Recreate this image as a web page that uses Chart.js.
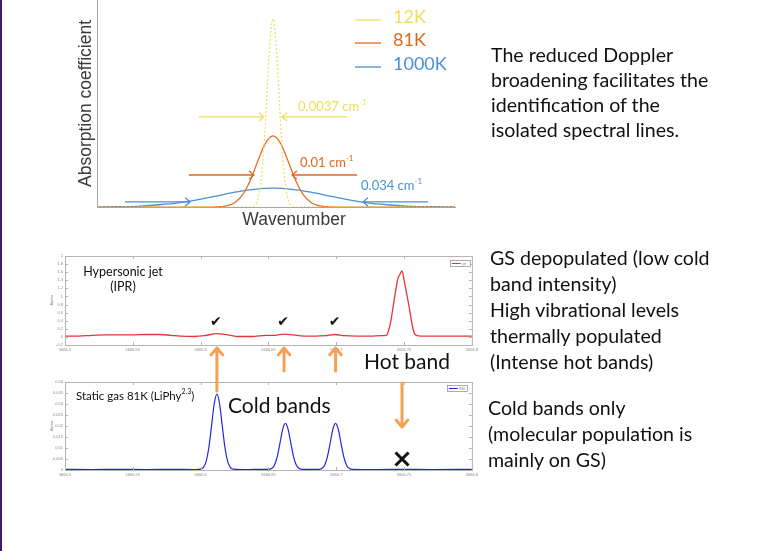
<!DOCTYPE html>
<html>
<head>
<meta charset="utf-8">
<script src="https://cdn.jsdelivr.net/npm/chart.js@4.4.1/dist/chart.umd.min.js"></script>
<style>
  body { margin: 0; width: 765px; height: 551px; background: #fff; position: relative; overflow: hidden; font-family: Lato, sans-serif; }
  #edge { position: absolute; left: 0; top: 0; width: 2px; height: 551px; background: #3b1a74; }
  canvas { position: absolute; }
  .note { position: absolute; font-size: 19.6px; color: #111; white-space: nowrap; }
</style>
</head>
<body>
<div id="edge"></div>
<canvas id="doppler" width="420" height="232" style="left:60px;top:0px"></canvas>
<canvas id="jet" width="440" height="105" style="left:40px;top:250px"></canvas>
<canvas id="cell" width="440" height="108" style="left:40px;top:376px"></canvas>
<canvas id="overlay" width="765" height="551" style="left:0;top:0;pointer-events:none"></canvas>

<div class="note" style="left:491px;top:42px;line-height:25px">The reduced Doppler<br>broadening facilitates the<br>identification of the<br>isolated spectral lines.</div>
<div class="note" style="left:490px;top:245px;line-height:26px">GS depopulated (low cold<br>band intensity)<br>High vibrational levels<br>thermally populated<br>(Intense hot bands)</div>
<div class="note" style="left:488px;top:395px;line-height:26px">Cold bands only<br>(molecular population is<br>mainly on GS)</div>

<script>
// Doppler profiles: offset from line centre (cm-1) vs normalised absorption
const dopplerLabels = ['12K', '81K', '1000K'];
const fwhmText = ['0.0037', '0.01', '0.034'];

const t12Wn  = [-0.0463, -0.006, -0.005, -0.004, -0.003, -0.002, -0.001, 0, 0.001, 0.002, 0.003, 0.004, 0.005, 0.006, 0.0479];
const t12Abs = [0, 0, 0.006, 0.039, 0.161, 0.444, 0.816, 1.0, 0.816, 0.444, 0.161, 0.039, 0.006, 0, 0];

const t81Wn  = [-0.0463, -0.016, -0.014, -0.012, -0.010, -0.008, -0.006, -0.004, -0.002, 0, 0.002, 0.004, 0.006, 0.008, 0.010, 0.012, 0.014, 0.016, 0.0479];
const t81Abs = [0, 0, 0.002, 0.007, 0.024, 0.064, 0.139, 0.243, 0.338, 0.378, 0.338, 0.243, 0.139, 0.064, 0.024, 0.007, 0.002, 0, 0];

const t1000Wn  = [-0.0463, -0.045, -0.04, -0.035, -0.03, -0.025, -0.02, -0.015, -0.01, -0.005, 0, 0.005, 0.01, 0.015, 0.02, 0.025, 0.03, 0.035, 0.04, 0.045, 0.0479];
const t1000Abs = [0.0005, 0.001, 0.002, 0.005, 0.012, 0.022, 0.038, 0.058, 0.079, 0.094, 0.100, 0.094, 0.079, 0.058, 0.038, 0.022, 0.012, 0.005, 0.002, 0.001, 0.0005];

// half-width arrows: height and tip positions (same units as above)
const fwhmArrowY = [0.479, 0.17, 0.027];
const fwhmTipL = [-0.0024, -0.005, -0.0218];
const fwhmTipR = [0.0024, 0.005, 0.0237];

// IPR hypersonic jet spectrum
const jetWn = [
  5666.500, 5666.510, 5666.520, 5666.530, 5666.540, 5666.550, 5666.560, 5666.570, 5666.578, 5666.585,
  5666.595, 5666.603, 5666.612, 5666.620, 5666.628, 5666.638, 5666.648, 5666.655, 5666.661, 5666.668,
  5666.676, 5666.685, 5666.692, 5666.699, 5666.706, 5666.715, 5666.725, 5666.733, 5666.737, 5666.740,
  5666.742, 5666.744, 5666.7456, 5666.747, 5666.7485, 5666.750, 5666.752, 5666.754, 5666.756, 5666.758,
  5666.762, 5666.770, 5666.785, 5666.800
];
const jetAlpha = [
  0.02, 0.02, 0.04, 0.05, 0.05, 0.05, 0.06, 0.06, 0.04, 0.02,
  0.01, 0.03, 0.08, 0.05, 0.01, 0.01, 0.04, 0.04, 0.07, 0.05,
  0.02, 0.02, 0.03, 0.06, 0.03, 0.02, 0.02, 0.03, 0.04, 0.35,
  0.76, 1.18, 1.46, 1.55, 1.63, 1.41, 1.05, 0.69, 0.30, 0.06,
  0.02, 0.02, 0.02, 0.02
];

// static cell at 81K (LiPhy)
const cellWn = [
  5666.500, 5666.520, 5666.540, 5666.560, 5666.580, 5666.596, 5666.600, 5666.602, 5666.604, 5666.606,
  5666.608, 5666.610, 5666.612, 5666.614, 5666.616, 5666.618, 5666.620, 5666.622, 5666.624, 5666.635,
  5666.645, 5666.650, 5666.6525, 5666.6545, 5666.6565, 5666.6585, 5666.6605, 5666.6625, 5666.6645, 5666.6665,
  5666.6685, 5666.6705, 5666.6725, 5666.675, 5666.687, 5666.6895, 5666.6915, 5666.6935, 5666.6955, 5666.6975,
  5666.6995, 5666.7015, 5666.7035, 5666.7055, 5666.7075, 5666.7095, 5666.712, 5666.730, 5666.750, 5666.770,
  5666.800
];
const cellAlpha = [
  0.0003, 0.0002, 0.0003, 0.0002, 0.0003, 0.0002, 0.0004, 0.0011, 0.0038, 0.0099,
  0.0198, 0.0300, 0.0345, 0.0300, 0.0198, 0.0099, 0.0038, 0.0011, 0.0004, 0.0002,
  0.0003, 0.0003, 0.0008, 0.0023, 0.0061, 0.0122, 0.0185, 0.0212, 0.0185, 0.0122,
  0.0061, 0.0023, 0.0008, 0.0003, 0.0003, 0.0008, 0.0023, 0.0061, 0.0122, 0.0185,
  0.0212, 0.0185, 0.0122, 0.0061, 0.0023, 0.0008, 0.0003, 0.0002, 0.0003, 0.0002,
  0.0003
];

const coldBands = [5666.612, 5666.6615, 5666.6995];
const hotBand = 5666.7485;

const dopplerColors = ['#eee05c', '#e2681c', '#4c8fd6'];
const arrowOrange = '#f7a054';

function pts(xs, ys) {
  return xs.map((v, i) => ({ x: v, y: ys[i] }));
}

// line with an open arrow head at (x2, y2)
function arrow(ctx, x1, y1, x2, y2, head, color, width) {
  const a = Math.atan2(y2 - y1, x2 - x1);
  ctx.save();
  ctx.strokeStyle = color;
  ctx.lineWidth = width;
  ctx.lineCap = 'round';
  ctx.lineJoin = 'round';
  ctx.beginPath();
  ctx.moveTo(x1, y1);
  ctx.lineTo(x2, y2);
  ctx.moveTo(x2 - head * Math.cos(a - 0.7), y2 - head * Math.sin(a - 0.7));
  ctx.lineTo(x2, y2);
  ctx.lineTo(x2 - head * Math.cos(a + 0.7), y2 - head * Math.sin(a + 0.7));
  ctx.stroke();
  ctx.restore();
}

// text with a superscript tail, returns the end x
function supText(ctx, base, sup, x, y, size, color, family) {
  ctx.save();
  ctx.fillStyle = color;
  ctx.textBaseline = 'middle';
  ctx.textAlign = 'left';
  ctx.font = size + 'px ' + family;
  ctx.fillText(base, x, y);
  let w = ctx.measureText(base).width;
  ctx.font = Math.round(size * 0.62) + 'px ' + family;
  ctx.fillText(sup, x + w, y - size * 0.33);
  w += ctx.measureText(sup).width;
  ctx.restore();
  return x + w;
}

const dopplerNotes = {
  id: 'dopplerNotes',
  afterDraw(chart) {
    const { ctx, chartArea: ca, scales: { x, y } } = chart;
    const tail = 0.017;
    const labelDx = [16, 8, -2];
    const labelDy = [-10, -12, -16];
    fwhmText.forEach((t, i) => {
      const c = dopplerColors[i];
      const ay = y.getPixelForValue(fwhmArrowY[i]);
      arrow(ctx, x.getPixelForValue(fwhmTipL[i] - tail), ay, x.getPixelForValue(fwhmTipL[i]), ay, 6, c, 1.3);
      arrow(ctx, x.getPixelForValue(fwhmTipR[i] + tail), ay, x.getPixelForValue(fwhmTipR[i]), ay, 6, c, 1.3);
      supText(ctx, t + ' cm', '-1', x.getPixelForValue(fwhmTipR[i]) + labelDx[i], ay + labelDy[i], 13, c, 'Lato');
    });

    // legend
    const rows = [20, 43, 67];
    chart.data.datasets.forEach((ds, i) => {
      const ly = ca.top + rows[i];
      ctx.save();
      ctx.strokeStyle = ds.borderColor;
      ctx.lineWidth = 1.3;
      ctx.beginPath();
      ctx.moveTo(ca.right - 100, ly);
      ctx.lineTo(ca.right - 74, ly);
      ctx.stroke();
      ctx.fillStyle = ds.borderColor;
      ctx.font = '18px Lato';
      ctx.textBaseline = 'middle';
      ctx.fillText(ds.label, ca.right - 62, ly - 3);
      ctx.restore();
    });

    ctx.save();
    ctx.fillStyle = '#3a3a3a';
    ctx.font = '17.5px "Liberation Sans"';
    ctx.textAlign = 'center';
    ctx.textBaseline = 'middle';
    ctx.fillText('Wavenumber', (ca.left + ca.right) / 2 + 18, ca.bottom + 13);
    ctx.restore();
  }
};

const dopplerChart = new Chart(document.getElementById('doppler'), {
  type: 'line',
  data: {
    datasets: [
      { label: dopplerLabels[0], data: pts(t12Wn, t12Abs), borderColor: dopplerColors[0], borderWidth: 1.2, borderDash: [2, 2] },
      { label: dopplerLabels[1], data: pts(t81Wn, t81Abs), borderColor: dopplerColors[1], borderWidth: 1.2 },
      { label: dopplerLabels[2], data: pts(t1000Wn, t1000Abs), borderColor: dopplerColors[2], borderWidth: 1.3 }
    ]
  },
  options: {
    responsive: false,
    animation: false,
    layout: { padding: { top: 0, right: 25, bottom: 0, left: 0 } },
    elements: { point: { radius: 0 }, line: { cubicInterpolationMode: 'monotone' } },
    plugins: { legend: { display: false }, tooltip: { enabled: false } },
    scales: {
      x: {
        type: 'linear', min: -0.0463, max: 0.0479,
        grid: { display: false, drawTicks: false },
        ticks: { display: false },
        border: { color: '#a6a6a6' },
        afterFit: s => { s.height = 25; }
      },
      y: {
        min: 0, max: 1.1,
        grid: { display: false, drawTicks: false },
        ticks: { display: false },
        border: { color: '#a6a6a6' },
        title: { display: true, text: 'Absorption coefficient', color: '#3a3a3a', font: { family: 'Liberation Sans', size: 17.5 }, padding: { top: 16, bottom: 0 } },
        afterFit: s => { s.width = 37; }
      }
    }
  },
  plugins: [dopplerNotes]
});

// box with inward ticks, the way the spectra were plotted
function drawFrame(chart) {
  const { ctx, chartArea: ca, scales: { x, y } } = chart;
  ctx.save();
  ctx.strokeStyle = '#b4b4b4';
  ctx.lineWidth = 1;
  ctx.strokeRect(ca.left + 0.5, ca.top + 0.5, ca.width, ca.height);
  ctx.beginPath();
  x.ticks.forEach(t => {
    const px = Math.round(x.getPixelForValue(t.value)) + 0.5;
    ctx.moveTo(px, ca.bottom); ctx.lineTo(px, ca.bottom - 3);
    ctx.moveTo(px, ca.top); ctx.lineTo(px, ca.top + 3);
  });
  y.ticks.forEach(t => {
    const py = Math.round(y.getPixelForValue(t.value)) + 0.5;
    ctx.moveTo(ca.left, py); ctx.lineTo(ca.left + 3, py);
    ctx.moveTo(ca.right, py); ctx.lineTo(ca.right - 3, py);
  });
  ctx.stroke();
  ctx.restore();
}

function drawMiniLegend(chart, dx, dy, text) {
  const { ctx, chartArea: ca } = chart;
  const ds = chart.data.datasets[0];
  const bx = ca.right + dx, by = ca.top + dy;
  ctx.save();
  ctx.fillStyle = '#fff';
  ctx.strokeStyle = '#9a9a9a';
  ctx.lineWidth = 0.8;
  ctx.fillRect(bx, by, 20, 6);
  ctx.strokeRect(bx + 0.5, by + 0.5, 20, 6);
  ctx.strokeStyle = ds.borderColor;
  ctx.lineWidth = 1;
  ctx.beginPath();
  ctx.moveTo(bx + 2, by + 3.5);
  ctx.lineTo(bx + 11, by + 3.5);
  ctx.stroke();
  ctx.fillStyle = '#777';
  ctx.font = '3.5px "Liberation Sans"';
  ctx.textBaseline = 'middle';
  ctx.fillText(text, bx + 12.5, by + 3.6);
  ctx.restore();
}

const jetNotes = {
  id: 'jetNotes',
  afterDraw(chart) {
    const { ctx, chartArea: ca, scales: { x, y } } = chart;
    drawFrame(chart);
    drawMiniLegend(chart, -22, 4, 'jet');
    ctx.save();
    ctx.fillStyle = '#111';
    ctx.font = '12.5px Lato';
    ctx.textAlign = 'center';
    ctx.textBaseline = 'middle';
    ctx.fillText('Hypersonic jet', ca.left + 58, ca.top + 16);
    ctx.fillText('(IPR)', ca.left + 58, ca.top + 31);
    ctx.font = 'bold 14px "DejaVu Sans"';
    coldBands.forEach(w => {
      ctx.fillText('\u2714', x.getPixelForValue(w) - 1, y.getPixelForValue(0.36));
    });
    ctx.restore();
  }
};

const cellNotes = {
  id: 'cellNotes',
  afterDraw(chart) {
    const { ctx, chartArea: ca, scales: { x, y } } = chart;
    drawFrame(chart);
    drawMiniLegend(chart, -25, 3, '81K');
    const end = supText(ctx, 'Static gas 81K (LiPhy', '2.3', ca.left + 11, ca.top + 14, 11.5, '#111', 'Lato');
    ctx.save();
    ctx.fillStyle = '#111';
    ctx.textBaseline = 'middle';
    ctx.font = '11.5px Lato';
    ctx.fillText(')', end, ca.top + 14);
    ctx.font = '21px Lato';
    ctx.fillText('Cold bands', ca.left + 163, ca.top + 24);
    ctx.restore();

    // no hot band in the cold cell
    const hx = x.getPixelForValue(hotBand), hy = y.getPixelForValue(0.005);
    ctx.save();
    ctx.strokeStyle = '#111';
    ctx.lineWidth = 3;
    ctx.beginPath();
    ctx.moveTo(hx - 6.5, hy - 6.5); ctx.lineTo(hx + 6.5, hy + 6.5);
    ctx.moveTo(hx + 6.5, hy - 6.5); ctx.lineTo(hx - 6.5, hy + 6.5);
    ctx.stroke();
    ctx.restore();
  }
};

const spectrumX = {
  type: 'linear', min: 5666.5, max: 5666.8,
  grid: { display: false, drawTicks: false },
  border: { display: false },
  ticks: { stepSize: 0.05, autoSkip: false, maxRotation: 0, padding: 2, color: '#888', font: { family: 'Liberation Sans', size: 4 }, callback: v => String(+v.toFixed(2)) }
};

const jetChart = new Chart(document.getElementById('jet'), {
  type: 'line',
  data: {
    datasets: [{ label: 'jet', data: pts(jetWn, jetAlpha), borderColor: '#e4363a', borderWidth: 1.3 }]
  },
  options: {
    responsive: false,
    animation: false,
    layout: { padding: { top: 6, right: 6, bottom: 0, left: 0 } },
    elements: { point: { radius: 0 }, line: { cubicInterpolationMode: 'monotone' } },
    plugins: { legend: { display: false }, tooltip: { enabled: false } },
    scales: {
      x: Object.assign({}, spectrumX, { afterFit: s => { s.height = 10; } }),
      y: {
        min: -0.2, max: 2.0,
        grid: { display: false, drawTicks: false },
        border: { display: false },
        ticks: { stepSize: 0.2, padding: 2, color: '#888', font: { family: 'Liberation Sans', size: 4 }, callback: v => String(+v.toFixed(1)) },
        title: { display: true, text: 'Alpha', color: '#888', font: { family: 'Liberation Sans', size: 4 }, padding: { top: 9, bottom: 0 } },
        afterFit: s => { s.width = 25; }
      }
    }
  },
  plugins: [jetNotes]
});

const cellChart = new Chart(document.getElementById('cell'), {
  type: 'line',
  data: {
    datasets: [{ label: '81K', data: pts(cellWn, cellAlpha), borderColor: '#2626d8', borderWidth: 1.2 }]
  },
  options: {
    responsive: false,
    animation: false,
    layout: { padding: { top: 6, right: 5, bottom: 0, left: 0 } },
    elements: { point: { radius: 0 }, line: { cubicInterpolationMode: 'monotone' } },
    plugins: { legend: { display: false }, tooltip: { enabled: false } },
    scales: {
      x: Object.assign({}, spectrumX, { afterFit: s => { s.height = 14; } }),
      y: {
        min: 0, max: 0.04,
        grid: { display: false, drawTicks: false },
        border: { display: false },
        ticks: { stepSize: 0.005, padding: 2, color: '#888', font: { family: 'Liberation Sans', size: 4 }, callback: v => String(+v.toFixed(3)) },
        title: { display: true, text: 'Alpha', color: '#888', font: { family: 'Liberation Sans', size: 4 }, padding: { top: 9, bottom: 0 } },
        afterFit: s => { s.width = 25; }
      }
    }
  },
  plugins: [cellNotes]
});

// orange arrows linking the two spectra
const ov = document.getElementById('overlay').getContext('2d');
const jetCv = document.getElementById('jet');
const cellCv = document.getElementById('cell');
const cellPx = v => cellChart.scales.x.getPixelForValue(v) + cellCv.offsetLeft;
const jetBottom = jetChart.chartArea.bottom + jetCv.offsetTop;
const cellTop = cellChart.chartArea.top + cellCv.offsetTop;

coldBands.forEach((w, i) => {
  const ax = cellPx(w);
  const tailY = i === 0
    ? cellChart.scales.y.getPixelForValue(Math.max(...cellAlpha)) + cellCv.offsetTop - 3
    : cellTop - 11;
  arrow(ov, ax, tailY, ax, jetBottom + 3, 9, arrowOrange, 3);
});

const hx = cellPx(hotBand);
arrow(ov, hx, cellTop + 1, hx, cellTop + 45, 9, arrowOrange, 3);

ov.fillStyle = '#111';
ov.font = '21px Lato';
ov.textBaseline = 'middle';
ov.fillText('Hot band', hx - 38, jetBottom + 17);
</script>
</body>
</html>
